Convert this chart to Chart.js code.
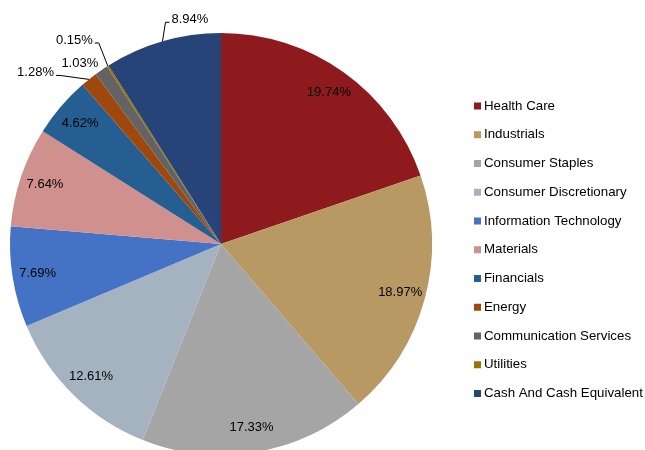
<!DOCTYPE html>
<html>
<head>
<meta charset="utf-8">
<script src="https://cdn.jsdelivr.net/npm/chart.js@4.4.0/dist/chart.umd.min.js"></script>
<style>
  html, body { margin: 0; padding: 0; background: #fff; overflow: hidden; }
  #wrap { width: 645px; height: 488px; }
</style>
</head>
<body>
<div id="wrap"><canvas id="pie" width="645" height="488"></canvas></div>
<script>
// datos del gráfico
const sectores = ['Health Care', 'Industrials', 'Consumer Staples', 'Consumer Discretionary',
  'Information Technology', 'Materials', 'Financials', 'Energy',
  'Communication Services', 'Utilities', 'Cash And Cash Equivalent'];
const pesos = [19.74, 18.97, 17.33, 12.61, 7.69, 7.64, 4.62, 1.28, 1.03, 0.15, 8.94];
const colores = ['#8f1a1e', '#b89963', '#a5a5a5', '#a5b3c0', '#4472c4', '#d0918e',
  '#255e91', '#9e480e', '#636363', '#997300', '#264478'];

// etiquetas por fuera (desplazamiento desde el borde del sector)
const fuera = {
  'Energy': { dx: -35, dy: -7, align: 'right', linea: true },
  'Communication Services': { dx: -3, dy: -7, align: 'right', linea: false },
  'Utilities': { dx: -15, dy: -26, align: 'right', linea: true },
  'Cash And Cash Equivalent': { dx: 9, dy: -22, align: 'left', linea: true }
};

const FONT = '13px "Liberation Sans", Arial, sans-serif';

const etiquetas = {
  id: 'etiquetas',
  afterDatasetsDraw(chart) {
    const ctx = chart.ctx;
    const arcs = chart.getDatasetMeta(0).data;
    ctx.save();
    ctx.font = FONT;
    ctx.fillStyle = '#000';
    ctx.textBaseline = 'middle';
    arcs.forEach((arc, i) => {
      const p = arc.getProps(['x', 'y', 'startAngle', 'endAngle', 'outerRadius']);
      const mid = (p.startAngle + p.endAngle) / 2;
      const txt = pesos[i].toFixed(2) + '%';
      const cfg = fuera[sectores[i]];
      if (!cfg) {
        const r = p.outerRadius * 0.88;
        ctx.textAlign = 'center';
        ctx.fillText(txt, p.x + Math.cos(mid) * r, p.y + Math.sin(mid) * r);
        return;
      }
      const ex = p.x + Math.cos(mid) * p.outerRadius;
      const ey = p.y + Math.sin(mid) * p.outerRadius;
      const tx = ex + cfg.dx, ty = ey + cfg.dy;
      ctx.textAlign = cfg.align;
      ctx.fillText(txt, tx, ty);
      if (cfg.linea) {
        const s = cfg.align === 'right' ? 1 : -1;
        ctx.beginPath();
        ctx.strokeStyle = '#000';
        ctx.lineWidth = 1;
        ctx.moveTo(ex, ey);
        ctx.lineTo(tx + s * 6, ty + 3);
        ctx.lineTo(tx + s * 2, ty + 3);
        ctx.stroke();
      }
    });
    ctx.restore();
  }
};

const leyenda = {
  id: 'leyenda',
  afterDraw(chart) {
    const ctx = chart.ctx;
    ctx.save();
    ctx.font = '13.3px "Liberation Sans", Arial, sans-serif';
    ctx.textBaseline = 'middle';
    ctx.textAlign = 'left';
    sectores.forEach((s, i) => {
      const y = 106 + i * 28.75;
      ctx.fillStyle = colores[i];
      ctx.fillRect(474, y - 3.5, 7, 7);
      ctx.fillStyle = '#000';
      ctx.fillText(s, 484, y);
    });
    ctx.restore();
  }
};

new Chart(document.getElementById('pie'), {
  type: 'pie',
  data: {
    labels: sectores,
    datasets: [{ data: pesos, backgroundColor: colores, borderWidth: 0 }]
  },
  options: {
    responsive: false,
    animation: false,
    layout: { padding: { left: 10, right: 213, top: 33, bottom: 33 } },
    plugins: { legend: { display: false }, tooltip: { enabled: false } }
  },
  plugins: [etiquetas, leyenda]
});
</script>
</body>
</html>
